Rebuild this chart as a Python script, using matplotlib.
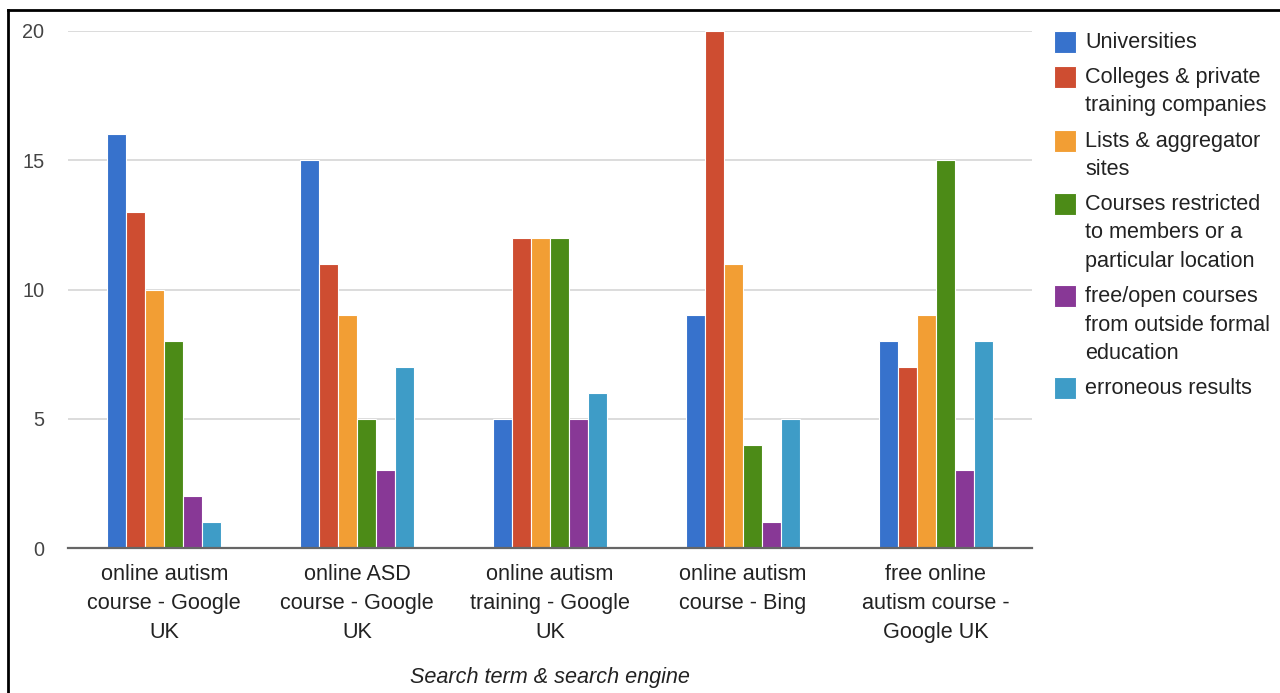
import matplotlib

matplotlib.use("Agg")
import matplotlib.pyplot as plt
import numpy as np
from matplotlib.patches import Rectangle
from matplotlib.lines import Line2D

groups = [
    "online autism\ncourse - Google\nUK",
    "online ASD\ncourse - Google\nUK",
    "online autism\ntraining - Google\nUK",
    "online autism\ncourse - Bing",
    "free online\nautism course -\nGoogle UK",
]
series = [
    "Universities",
    "Colleges & private\ntraining companies",
    "Lists & aggregator\nsites",
    "Courses restricted\nto members or a\nparticular location",
    "free/open courses\nfrom outside formal\neducation",
    "erroneous results",
]
universities = [16, 15, 5, 9, 8]
colleges = [13, 11, 12, 20, 7]
lists_sites = [10, 9, 12, 11, 9]
restricted = [8, 5, 12, 4, 15]
free_open = [2, 3, 5, 1, 3]
erroneous = [1, 7, 6, 5, 8]
values = [universities, colleges, lists_sites, restricted, free_open, erroneous]
colors = ["#3772cc", "#ce4d31", "#f29e34", "#4c8b17", "#883896", "#3e9cc7"]

plt.rcParams["font.family"] = ["Liberation Sans", "DejaVu Sans"]
FS = 15.6
LS = 1.5

fig = plt.figure(figsize=(12.8, 6.93), dpi=100)
ax = fig.add_axes([0.0531, 0.2092, 0.7531, 0.7461])

x = np.arange(len(groups))
w = 0.0985
n = len(series)
for i, (vals, c) in enumerate(zip(values, colors)):
    ax.bar(x + (i - (n - 1) / 2) * w, vals, width=w, color=c,
           edgecolor="white", linewidth=0.8, zorder=3)

ax.set_xlim(-0.5, len(groups) - 0.5)
ax.set_ylim(0, 20)
ax.set_yticks([0, 5, 10, 15, 20])
ax.yaxis.grid(True, color="#d9d9d9", linewidth=1.3, zorder=0)
ax.axhline(0, color="#666666", linewidth=1.6, zorder=4, clip_on=False)
for s in ax.spines.values():
    s.set_visible(False)
ax.tick_params(axis="y", length=0, pad=17, labelsize=14.3, labelcolor="#444444")
ax.tick_params(axis="x", length=0, pad=11.5, labelsize=FS, labelcolor="#222222")
ax.set_xticks(x)
ax.set_xticklabels(groups, linespacing=LS)
ax.set_xlabel("Search term & search engine", fontsize=FS, style="italic",
              color="#222222", labelpad=17.5)

# legende dessinee a la main (style Google Charts), une ligne de texte a la fois
W, H = 1280, 693
y = 42
for lab, c in zip(series, colors):
    fig.patches.append(Rectangle((1054 / W, 1 - (y + 11) / H), 22 / W, 22 / H,
                                 transform=fig.transFigure, facecolor=c,
                                 edgecolor="white", linewidth=0.8))
    lines = lab.split("\n")
    for k, ln in enumerate(lines):
        fig.text(1085 / W, 1 - (y + 6 + k * 28.5) / H, ln, fontsize=FS,
                 color="#222222", va="baseline", ha="left")
    y += (len(lines) - 1) * 28.5 + 35

# cadre noir en haut et a gauche
fig.add_artist(Line2D([7.5 / W, 7.5 / W], [0, 1 - 9.5 / H], color="black",
                      linewidth=2, transform=fig.transFigure))
fig.add_artist(Line2D([7.5 / W, 1], [1 - 9.5 / H, 1 - 9.5 / H], color="black",
                      linewidth=2, transform=fig.transFigure))

fig.savefig("out.png", dpi=100)
